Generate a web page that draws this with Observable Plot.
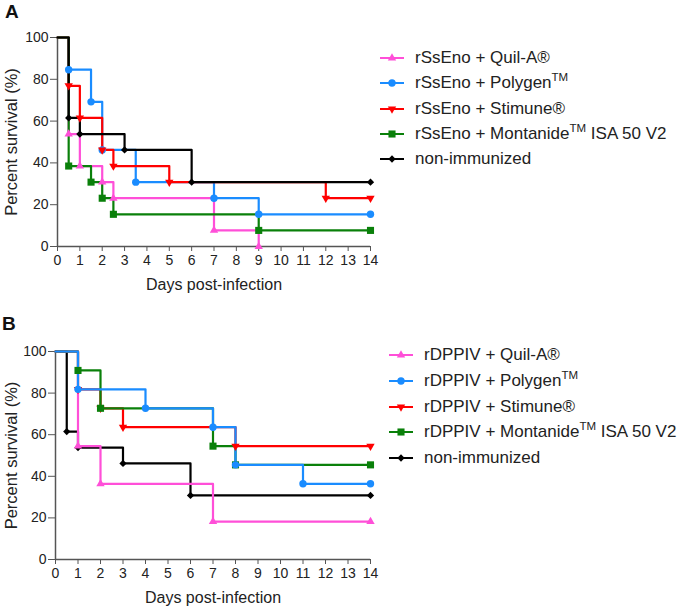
<!DOCTYPE html>
<html>
<head>
<meta charset="utf-8">
<script src="https://cdn.jsdelivr.net/npm/d3@7"></script>
<script src="https://cdn.jsdelivr.net/npm/@observablehq/plot@0.6"></script>
<style>
  body { margin: 0; background: #fff; font-family: "Liberation Sans", Arial, sans-serif; }
  #wrap { position: relative; width: 685px; height: 607px; overflow: hidden; }
  .panel { position: absolute; left: 0; }
  .letter { position: absolute; font-weight: bold; font-size: 19px; color: #111; }
  .item { position: absolute; height: 24px; display: flex; align-items: center; font-size: 17px; color: #222; white-space: nowrap; }
  .item svg { margin-right: 11px; }
  sup { font-size: 11.5px; vertical-align: 0; position: relative; top: -7px; }
</style>
</head>
<body>
<div id="wrap"></div>
<script>
// ---------- data ----------
const dayTicks = [0, 1, 2, 3, 4, 5, 6, 7, 8, 9, 10, 11, 12, 13, 14];
const survTicks = [0, 20, 40, 60, 80, 100];

// Panel A (rSsEno)
const quilA_A_days = [0, 0.5, 1, 2, 2.5, 7, 9];
const quilA_A_surv = [100, 53.8, 38.5, 30.8, 23.1, 7.7, 0];
const polygen_A_days = [0, 0.5, 1.5, 2, 3.5, 7, 9, 14];
const polygen_A_surv = [100, 84.6, 69.2, 46.2, 30.8, 23.1, 15.4, 15.4];
const stimune_A_days = [0, 0.5, 1, 2, 2.5, 5, 12, 14];
const stimune_A_surv = [100, 76.9, 61.5, 46.2, 38.5, 30.8, 23.1, 23.1];
const montanide_A_days = [0, 0.5, 1.5, 2, 2.5, 9, 14];
const montanide_A_surv = [100, 38.5, 30.8, 23.1, 15.4, 7.7, 7.7];
const nonimm_A_days = [0, 0.5, 1, 3, 6, 14];
const nonimm_A_surv = [100, 61.5, 53.8, 46.2, 30.8, 30.8];

// Panel B (rDPPIV)
const quilA_B_days = [0, 1, 2, 7, 14];
const quilA_B_surv = [100, 54.5, 36.4, 18.2, 18.2];
const polygen_B_days = [0, 1, 4, 7, 8, 11, 14];
const polygen_B_surv = [100, 81.8, 72.7, 63.6, 45.5, 36.4, 36.4];
const stimune_B_days = [0, 1, 2, 3, 8, 14];
const stimune_B_surv = [100, 81.8, 72.7, 63.6, 54.5, 54.5];
const montanide_B_days = [0, 1, 2, 7, 8, 14];
const montanide_B_surv = [100, 90.9, 72.7, 54.5, 45.5, 45.5];
const nonimm_B_days = [0, 0.5, 1, 3, 6, 14];
const nonimm_B_surv = [100, 61.5, 53.8, 46.2, 30.8, 30.8];

// Legend labels: [text, superscript, rest]
const legendA = [
  ["rSsEno + Quil-A®"],
  ["rSsEno + Polygen", "TM"],
  ["rSsEno + Stimune®"],
  ["rSsEno + Montanide", "TM", " ISA 50 V2"],
  ["non-immunized"]
];
const legendB = [
  ["rDPPIV + Quil-A®"],
  ["rDPPIV + Polygen", "TM"],
  ["rDPPIV + Stimune®"],
  ["rDPPIV + Montanide", "TM", " ISA 50 V2"],
  ["non-immunized"]
];
const xLabel = "Days post-infection";
const yLabel = "Percent survival (%)";

// ---------- styles ----------
const STY = {
  quilA:     { color: "#ff4fd8", symbol: "triangle", r: 3.1, rotate: 0 },
  polygen:   { color: "#1a8cff", symbol: "circle",   r: 3.7, rotate: 0 },
  stimune:   { color: "#ff0000", symbol: "triangle", r: 3.1, rotate: 180 },
  montanide: { color: "#0a800a", symbol: "square",   r: 4.0, rotate: 0 },
  nonimm:    { color: "#000000", symbol: "square",   r: 2.9, rotate: 45 }
};

function rows(days, surv) { return days.map((d, i) => ({ day: d, surv: surv[i] })); }

const seriesA = {
  quilA: rows(quilA_A_days, quilA_A_surv),
  polygen: rows(polygen_A_days, polygen_A_surv),
  stimune: rows(stimune_A_days, stimune_A_surv),
  montanide: rows(montanide_A_days, montanide_A_surv),
  nonimm: rows(nonimm_A_days, nonimm_A_surv)
};
const seriesB = {
  quilA: rows(quilA_B_days, quilA_B_surv),
  polygen: rows(polygen_B_days, polygen_B_surv),
  stimune: rows(stimune_B_days, stimune_B_surv),
  montanide: rows(montanide_B_days, montanide_B_surv),
  nonimm: rows(nonimm_B_days, nonimm_B_surv)
};

function panel(series, order, cfg) {
  const marks = [
    Plot.ruleX([0], { stroke: "#555", strokeWidth: 1.5 }),
    Plot.ruleY([0], { stroke: "#555", strokeWidth: 1.5 }),
    Plot.axisX({ ticks: dayTicks, tickFormat: d => d, tickSize: 5, tickPadding: 4, stroke: "#555", fill: "#222", fontSize: 14, label: null }),
    Plot.axisY({ ticks: survTicks, tickFormat: d => d, tickSize: 7, tickPadding: 2, stroke: "#555", fill: "#222", fontSize: 14, label: null }),
    Plot.text([xLabel], { text: d => d, frameAnchor: "bottom", dy: 38, fontSize: 16, fill: "#222", lineAnchor: "middle" }),
    Plot.text([yLabel], { text: d => d, frameAnchor: "left", dx: cfg.ylabelDx, rotate: -90, textAnchor: "middle", lineAnchor: "middle", fontSize: 16.5, fill: "#222" })
  ];
  for (const k of order) {
    marks.push(Plot.line(series[k], { x: "day", y: "surv", curve: "step-after", stroke: STY[k].color, strokeWidth: 2.2 }));
  }
  for (const k of order) {
    marks.push(Plot.dot(series[k].slice(1), { x: "day", y: "surv", symbol: STY[k].symbol, r: STY[k].r, fill: STY[k].color, stroke: "none", rotate: STY[k].rotate }));
  }
  return Plot.plot({
    width: 385,
    height: cfg.height,
    marginLeft: cfg.marginLeft,
    marginRight: 385 - 370,
    marginTop: cfg.marginTop,
    marginBottom: cfg.marginBottom,
    style: { fontFamily: "Liberation Sans, Arial, sans-serif", fontSize: "14px", background: "transparent", overflow: "visible" },
    x: { domain: [0, 14] },
    y: { domain: [0, 100] },
    marks
  });
}

const wrap = document.getElementById("wrap");

const pA = panel(seriesA, ["quilA", "polygen", "stimune", "montanide", "nonimm"],
  { height: 300, marginLeft: 57, marginTop: 37, marginBottom: 54, ylabelDx: -46 });
pA.classList.add("panel"); pA.style.top = "0px"; pA.style.position = "absolute";
wrap.appendChild(pA);

const pB = panel(seriesB, ["nonimm", "stimune", "quilA", "montanide", "polygen"],
  { height: 307, marginLeft: 55, marginTop: 51, marginBottom: 48, ylabelDx: -44 });
pB.classList.add("panel"); pB.style.top = "300px"; pB.style.position = "absolute";
wrap.appendChild(pB);

// letters
for (const [t, x, y] of [["A", 5, 1], ["B", 2, 313]]) {
  const d = document.createElement("div");
  d.className = "letter"; d.textContent = t; d.style.left = x + "px"; d.style.top = y + "px";
  wrap.appendChild(d);
}

// legends
const keys = ["quilA", "polygen", "stimune", "montanide", "nonimm"];
function legend(labels, left, top0, step) {
  labels.forEach((parts, i) => {
    const k = keys[i];
    const item = document.createElement("div");
    item.className = "item";
    item.style.left = left + "px";
    item.style.top = (top0 + i * step - 12) + "px";
    const sym = d3.symbol(
      { circle: d3.symbolCircle, triangle: d3.symbolTriangle, square: d3.symbolSquare }[STY[k].symbol],
      Math.PI * STY[k].r * STY[k].r)();
    item.innerHTML =
      `<svg width="24" height="14"><line x1="0" x2="24" y1="7" y2="7" stroke="${STY[k].color}" stroke-width="2"/>` +
      `<path d="${sym}" fill="${STY[k].color}" transform="translate(12,7) rotate(${STY[k].rotate})"/></svg>` +
      `<span>${parts[0]}${parts[1] ? "<sup>" + parts[1] + "</sup>" : ""}${parts[2] || ""}</span>`;
    wrap.appendChild(item);
  });
}
legend(legendA, 380, 58, 25.3);
legend(legendB, 389, 355, 25.8);
</script>
</body>
</html>
